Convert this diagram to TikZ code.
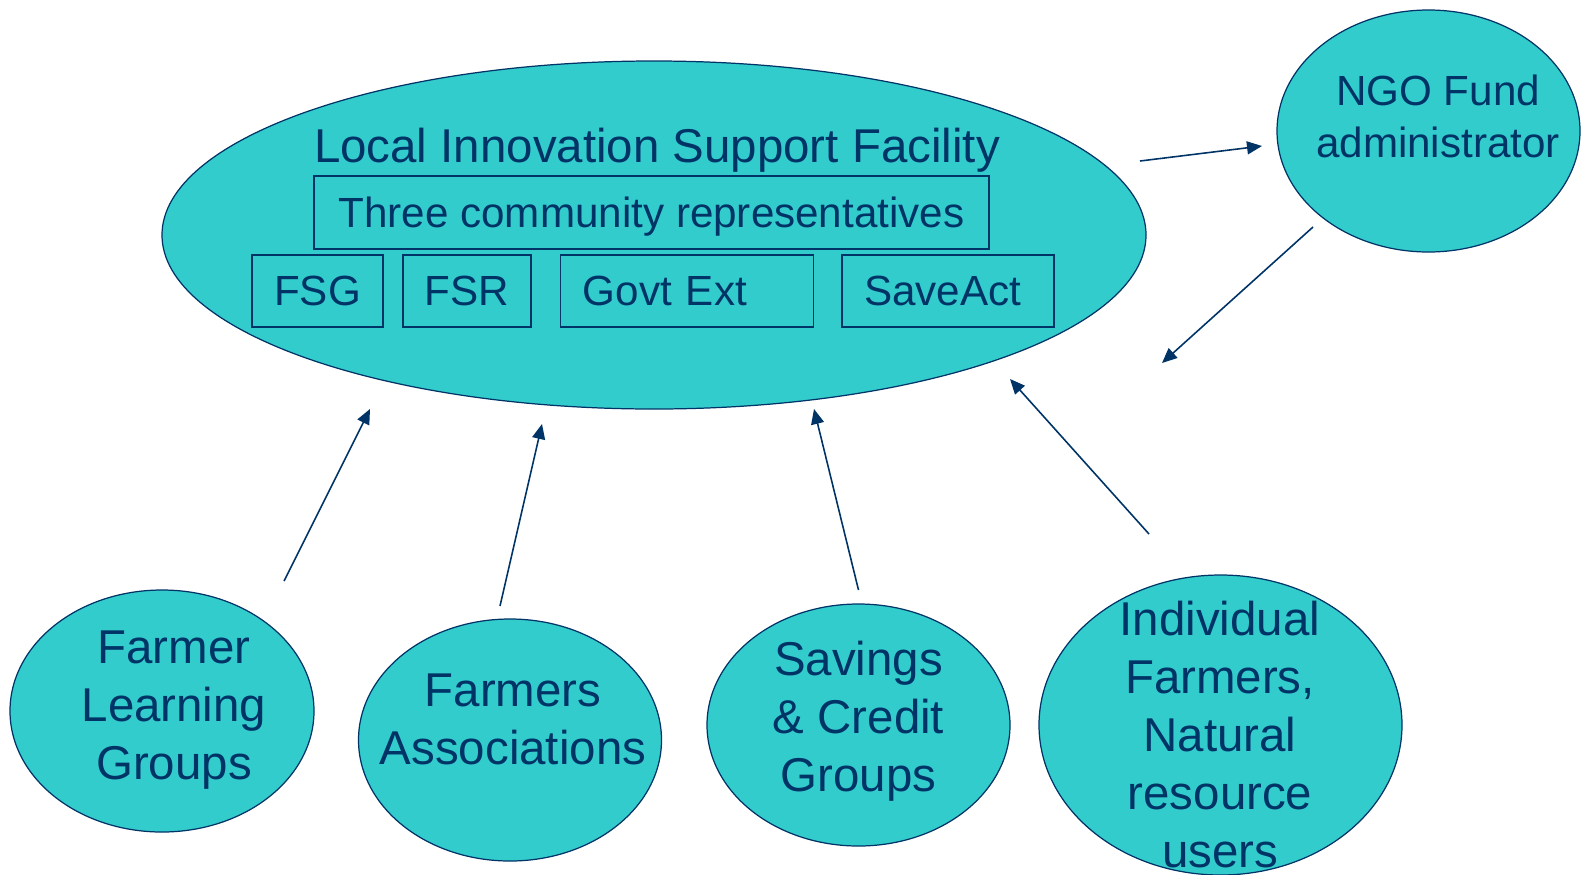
\documentclass[tikz,border=0pt]{standalone}
\usepackage{fontspec}
\setmainfont{Liberation Sans}
\usetikzlibrary{shapes.geometric, arrows.meta}
\definecolor{bubfill}{HTML}{33CCCC}
\definecolor{inkblue}{HTML}{003366}

\begin{document}
\begin{tikzpicture}[
    x = 0.2mm, y = -0.2mm,  % one unit = one pixel of the slide
    every node/.style = {text = inkblue},
    bubble/.style = {draw = inkblue, fill = bubfill, ellipse, inner sep = 0pt, line width = 0.7pt},
    bubtext/.style = {align = center, inner sep = 0pt, font = \fontsize{27}{33}\selectfont},
    box/.style = {draw = inkblue, line width = 0.8pt, minimum width = #1,
                  inner xsep = 4.4mm, inner ysep = 0pt, minimum height = 14.4mm,
                  text height = 17pt, text depth = 0pt, font = \fontsize{24}{29}\selectfont},
    flow/.style = {draw = inkblue, line width = 0.9pt, -{Triangle[length = 3mm, width = 2.6mm]}}
  ]
  \useasboundingbox (0,0) rectangle (1584,874);

  % Facility with its members
  \node[bubble, minimum width = 196.8mm, minimum height = 69.6mm] (lisf) at (654,235) {};
  \node[anchor = base, inner sep = 0pt, font = \fontsize{27}{33}\selectfont]
    (lisf-title) at (657,162) {Local Innovation Support Facility};
  \node[box = 135mm, minimum height = 14.6mm] (reps) at (651.5,212.5) {Three community representatives};
  \node[box = 25.8mm] (fsg)  at (317.5,291) {FSG};
  \node[box = 25.2mm] (fsr)  at (467,291)   {FSR};
  \node[box = 50.5mm, text width = 41.7mm, align = left] (govt) at (687,291) {Govt Ext};
  \node[box = 42.4mm, text width = 33.6mm, align = left] (save) at (948,291) {SaveAct};

  % Fund administrator
  \node[bubble, minimum width = 60.6mm, minimum height = 48.4mm] (ngo) at (1428.5,131) {};
  \node[bubtext, font = \fontsize{24}{29.6}\selectfont] (ngo-txt) at (1438,116.5) {NGO Fund\\administrator};

  % Groups below
  \node[bubble, minimum width = 60.8mm, minimum height = 48.4mm] (flg) at (162,711) {};
  \node[bubtext] (flg-txt) at (174,710.5) {Farmer\\Learning\\Groups};
  \node[bubble, minimum width = 60.6mm, minimum height = 48.4mm] (fa) at (510,740) {};
  \node[bubtext] (fa-txt) at (513,719) {Farmers\\Associations};
  \node[bubble, minimum width = 60.6mm, minimum height = 48.4mm] (scg) at (858.5,725) {};
  \node[bubtext] (scg-txt) at (858.5,721) {Savings\\\& Credit\\Groups};
  \node[bubble, minimum width = 72.6mm, minimum height = 60mm] (ind) at (1220.5,725) {};
  \node[bubtext] (ind-txt) at (1220,735) {Individual\\Farmers,\\Natural\\resource\\users};

  % Arrow ends
  \coordinate (lisf-out) at (1140,161);  \coordinate (ngo-in)  at (1262,146);
  \coordinate (ngo-out)  at (1313,227);  \coordinate (lisf-in) at (1162,363);
  \coordinate (flg-out)  at (284,581);   \coordinate (flg-in)  at (370,409);
  \coordinate (fa-out)   at (500,606);   \coordinate (fa-in)   at (542,424);
  \coordinate (scg-out)  at (858.5,590); \coordinate (scg-in)  at (814,409);
  \coordinate (ind-out)  at (1149,534);  \coordinate (ind-in)  at (1010,379);

  \draw[flow] (lisf-out) -- (ngo-in);
  \draw[flow] (ngo-out) -- (lisf-in);
  \foreach \g in {flg, fa, scg, ind}
    \draw[flow] (\g-out) -- (\g-in);

\end{tikzpicture}
\end{document}
